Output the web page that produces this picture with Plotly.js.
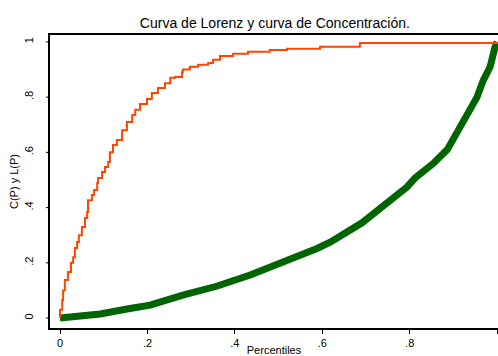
<!DOCTYPE html>
<html>
<head>
<meta charset="utf-8">
<script src="https://cdn.plot.ly/plotly-3.0.1.min.js"></script>
<style>html,body{margin:0;padding:0;background:#fff;}#chart{width:498px;height:356px;}</style>
</head>
<body>
<div id="chart"></div>
<script>
// Concentration curve C(P) (orange)
const concX = [0,0,0.005,0.007,0.011,0.018,0.025,0.03,0.034,0.039,0.043,0.05,0.057,0.062,0.064,0.073,0.078,0.085,0.087,0.096,0.103,0.11,0.114,0.121,0.13,0.142,0.153,0.165,0.172,0.183,0.199,0.21,0.224,0.24,0.252,0.263,0.279,0.281,0.297,0.316,0.339,0.35,0.366,0.396,0.43,0.48,0.519,0.595,0.686,1.0];
const concY = [0,0.03,0.065,0.10,0.138,0.167,0.20,0.22,0.254,0.275,0.30,0.33,0.362,0.384,0.427,0.446,0.464,0.489,0.507,0.529,0.547,0.565,0.60,0.627,0.645,0.68,0.71,0.735,0.754,0.775,0.793,0.815,0.833,0.85,0.87,0.873,0.89,0.90,0.91,0.917,0.924,0.935,0.949,0.957,0.964,0.971,0.975,0.982,0.996,1.0];
// Lorenz curve L(P) (green)
const lorX = [0,0.05,0.092,0.153,0.206,0.281,0.36,0.435,0.458,0.51,0.549,0.588,0.618,0.641,0.664,0.691,0.709,0.728,0.748,0.771,0.794,0.812,0.854,0.886,0.908,0.931,0.954,0.968,0.984,0.995,1.0];
const lorY = [0,0.005,0.015,0.033,0.047,0.083,0.116,0.156,0.170,0.200,0.225,0.252,0.275,0.295,0.319,0.345,0.368,0.392,0.415,0.446,0.475,0.507,0.56,0.61,0.67,0.73,0.80,0.86,0.91,0.98,1.0];
const tickVals = [0,0.2,0.4,0.6,0.8,1];
const tickText = ['0','.2','.4','.6','.8','1'];
const yRange = [-0.036,1.025];

const traces = [
  {x: lorX, y: lorY, type:'scatter', mode:'lines', line:{color:'#006400', width:7}, hoverinfo:'skip'},
  {x: concX, y: concY, type:'scatter', mode:'lines', line:{color:'#FF4500', width:2, shape:'hv'}, hoverinfo:'skip'}
];
// short y tick marks at the tick values (labels sit further out)
const yTickShapes = tickVals.map(v => ({type:'line', xref:'paper', yref:'y', x0:-0.009, x1:0, y0:v, y1:v,
  line:{color:'#000', width:1}, layer:'above'}));
const fnt = {family:'Liberation Sans, Arial, sans-serif', size:11, color:'#000'};
const layout = {
  width:498, height:356,
  margin:{l:50, r:0, t:35, b:28, pad:0},
  paper_bgcolor:'#fff', plot_bgcolor:'#fff',
  showlegend:false,
  shapes: yTickShapes,
  title:{text:'Curva de Lorenz y curva de Concentración.', font:{family:'Liberation Sans, Arial, sans-serif', size:14, color:'#000'}, x:0.552, xanchor:'center', y:0.935, yanchor:'middle'},
  xaxis:{range:[-0.023,1.002], tickvals:tickVals, ticktext:tickText, showgrid:false, zeroline:false,
    showline:true, linecolor:'#000', linewidth:2, mirror:true, ticks:'outside', ticklen:4, tickcolor:'#000', tickwidth:1,
    tickfont:fnt, title:{text:'Percentiles', font:fnt, standoff:2}},
  yaxis:{range:yRange, tickvals:tickVals, ticktext:tickText, showgrid:false, zeroline:false,
    showline:true, linecolor:'#000', linewidth:2, mirror:true, ticks:'outside', ticklen:11, tickcolor:'rgba(0,0,0,0)', tickwidth:1,
    tickangle:-90, tickfont:fnt, title:{text:'C(P) y L(P)', font:fnt, standoff:2}}
};
Plotly.newPlot('chart', traces, layout, {displayModeBar:false, staticPlot:true});
</script>
</body>
</html>
